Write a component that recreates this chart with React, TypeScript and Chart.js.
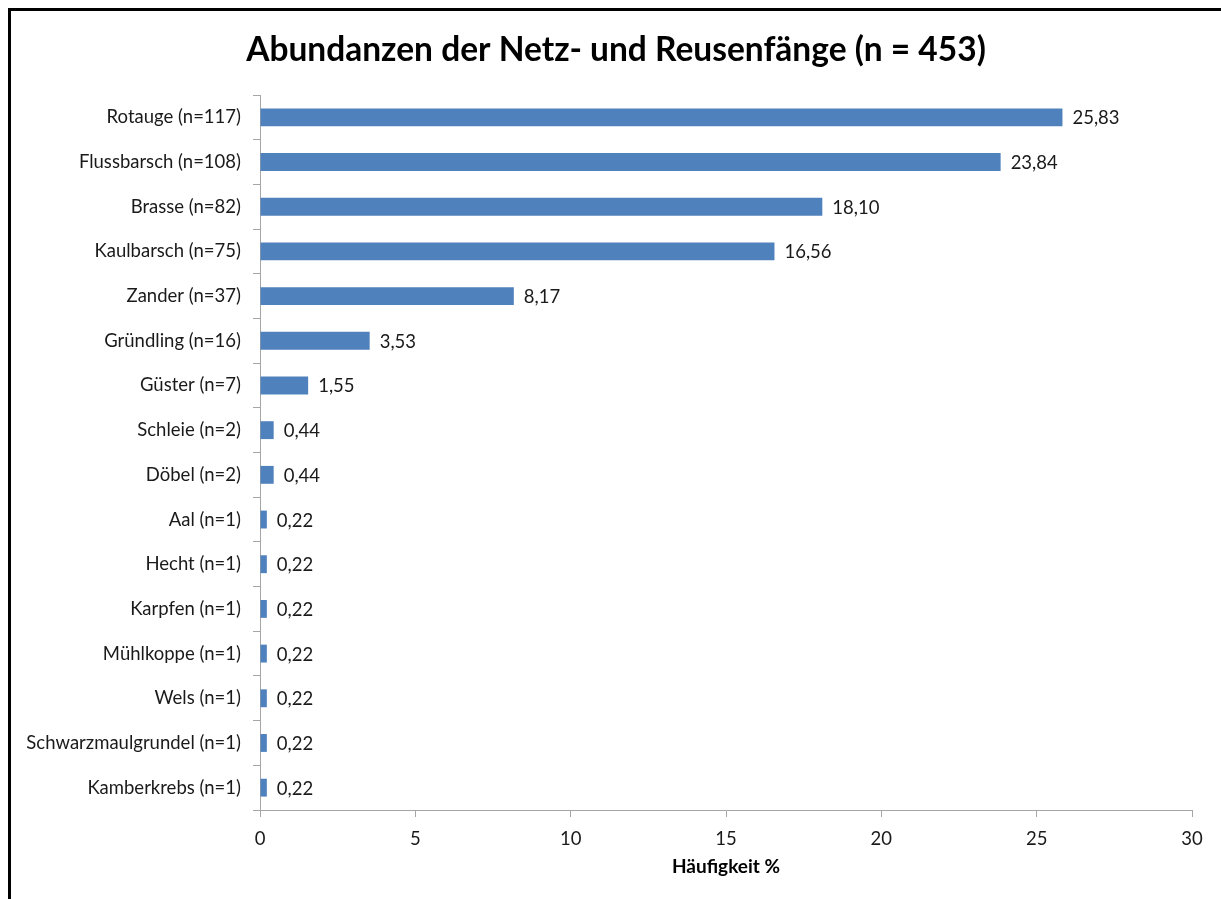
import React, { useEffect, useRef } from "react";
import { Chart, registerables } from "chart.js";

Chart.register(...registerables);

const species = [
  "Rotauge", "Flussbarsch", "Brasse", "Kaulbarsch", "Zander", "Gründling", "Güster",
  "Schleie", "Döbel", "Aal", "Hecht", "Karpfen", "Mühlkoppe", "Wels",
  "Schwarzmaulgrundel", "Kamberkrebs",
];
const counts = [117, 108, 82, 75, 37, 16, 7, 2, 2, 1, 1, 1, 1, 1, 1, 1];
const percentages = [25.83, 23.84, 18.1, 16.56, 8.17, 3.53, 1.55, 0.44, 0.44, 0.22, 0.22, 0.22, 0.22, 0.22, 0.22, 0.22];
const categoryLabels = species.map((s, i) => `${s} (n=${counts[i]})`);
const xTicks = [0, 5, 10, 15, 20, 25, 30];

const chartTitle = "Abundanzen der Netz- und Reusenfänge (n = 453)";
const xTitle = "Häufigkeit %";

const FONT = "Lato, 'Open Sans', sans-serif";
const TEXT = "#1a1a1a";
const AXIS = "#a6a6a6";
const LABEL_SIZE = 18.5;

const valueLabels = {
  id: "valueLabels",
  afterDatasetsDraw(chart: any) {
    const ctx = chart.ctx;
    const meta = chart.getDatasetMeta(0);
    ctx.save();
    ctx.font = `${LABEL_SIZE}px ${FONT}`;
    ctx.fillStyle = TEXT;
    ctx.textAlign = "left";
    ctx.textBaseline = "middle";
    meta.data.forEach((bar: any, i: number) => {
      const v = chart.data.datasets[0].data[i] as number;
      ctx.fillText(v.toFixed(2).replace(".", ","), bar.x + 10, bar.y + 1);
    });
    ctx.restore();
  },
};

const centeredTitle = {
  id: "centeredTitle",
  afterDraw(chart: any) {
    const ctx = chart.ctx;
    ctx.save();
    ctx.font = `bold 33.5px ${FONT}`;
    ctx.fillStyle = "#000";
    ctx.textAlign = "center";
    ctx.textBaseline = "middle";
    ctx.fillText(chartTitle, 605, 39);
    ctx.restore();
  },
};

export default function App() {
  const ref = useRef<HTMLCanvasElement>(null);
  useEffect(() => {
    document.documentElement.style.overflow = "hidden";
    document.body.style.overflow = "hidden";
    if (!ref.current) return;
    const chart = new Chart(ref.current, {
      type: "bar",
      data: {
        labels: categoryLabels,
        datasets: [
          {
            data: percentages,
            backgroundColor: "#4F81BD",
            borderWidth: 0,
            categoryPercentage: 0.8,
            barPercentage: 0.5,
          },
        ],
      },
      options: {
        indexAxis: "y",
        responsive: false,
        animation: false,
        layout: { padding: { top: 84, right: 29, bottom: 0, left: 0 } },
        plugins: {
          legend: { display: false },
          tooltip: { enabled: false },
          title: { display: false },
        },
        scales: {
          x: {
            min: 0,
            max: 30,
            afterBuildTicks: (scale: any) => {
              scale.ticks = xTicks.map((v) => ({ value: v }));
            },
            afterFit: (scale: any) => {
              scale.height = 89;
            },
            grid: {
              drawOnChartArea: false,
              drawTicks: true,
              tickLength: 7,
              color: AXIS,
            },
            border: { color: AXIS, width: 1 },
            ticks: {
              color: TEXT,
              font: { family: FONT, size: LABEL_SIZE },
              padding: 11,
            },
            title: {
              display: true,
              text: xTitle,
              color: "#000",
              font: { family: FONT, size: 19, weight: "bold" },
              padding: { top: 0, bottom: 21 },
            },
          },
          y: {
            afterFit: (scale: any) => {
              scale.width = 249;
            },
            grid: {
              drawOnChartArea: false,
              drawTicks: true,
              tickLength: 7,
              offset: true,
              color: AXIS,
            },
            border: { color: AXIS, width: 1 },
            ticks: {
              color: TEXT,
              font: { family: FONT, size: LABEL_SIZE },
              padding: 12,
              autoSkip: false,
            },
          },
        },
      },
      plugins: [valueLabels, centeredTitle],
    });
    return () => chart.destroy();
  }, []);

  return (
    <div
      style={{
        position: "fixed",
        left: 8,
        top: 8,
        width: 1240,
        height: 920,
        boxSizing: "border-box",
        borderLeft: "3px solid #000",
        borderTop: "3px solid #000",
        overflow: "hidden",
        background: "#fff",
      }}
    >
      <canvas ref={ref} width={1210} height={888} style={{ display: "block" }} />
    </div>
  );
}
